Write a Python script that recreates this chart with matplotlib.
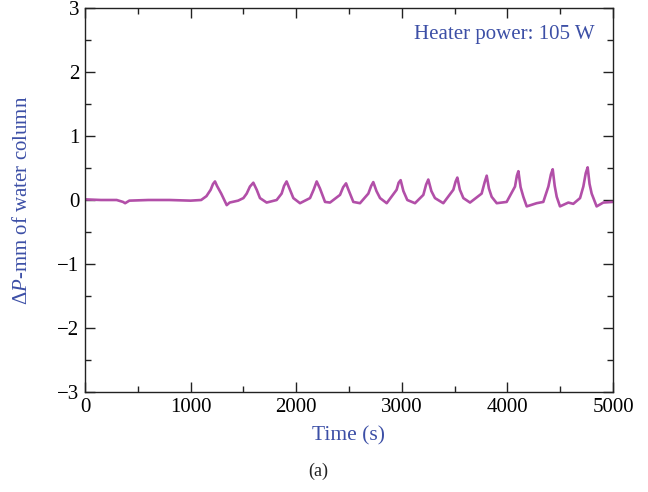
import matplotlib
matplotlib.use("Agg")
import matplotlib.pyplot as plt
from matplotlib.ticker import MultipleLocator

# Time (s) and pressure difference (mm of water column)
time_s = [0, 150, 300, 360, 380, 420, 600, 800, 1000, 1100, 1150, 1190, 1212, 1231,
          1250, 1290, 1342, 1370, 1450, 1500, 1531, 1562, 1594, 1626, 1657, 1720,
          1815, 1862, 1885, 1909, 1941, 1973, 2036, 2131, 2165, 2194, 2225, 2273,
          2320, 2415, 2445, 2472, 2490, 2541, 2604, 2683, 2710, 2730, 2760, 2794,
          2857, 2951, 2970, 2989, 3015, 3052, 3125, 3204, 3230, 3251, 3280, 3314,
          3393, 3488, 3510, 3526, 3550, 3583, 3646, 3756, 3785, 3804, 3825, 3851,
          3899, 3993, 4072, 4090, 4104, 4125, 4151, 4183, 4277, 4340, 4388, 4412,
          4429, 4448, 4467, 4498, 4577, 4624, 4688, 4719, 4742, 4760, 4778, 4798,
          4845, 4908, 5000]
dp_mm = [0.01, 0.0, 0.0, -0.03, -0.05, -0.01, 0.0, 0.0, -0.01, 0.0, 0.06, 0.16, 0.25, 0.29,
         0.22, 0.10, -0.08, -0.04, -0.01, 0.03, 0.10, 0.21, 0.27, 0.16, 0.03, -0.04,
         0.0, 0.10, 0.22, 0.29, 0.16, 0.03, -0.05, 0.03, 0.16, 0.29, 0.18, -0.03,
         -0.04, 0.08, 0.20, 0.26, 0.18, -0.03, -0.05, 0.10, 0.22, 0.28, 0.14, 0.03,
         -0.05, 0.16, 0.27, 0.31, 0.14, 0.0, -0.05, 0.08, 0.24, 0.32, 0.14, 0.03,
         -0.05, 0.16, 0.29, 0.35, 0.16, 0.03, -0.04, 0.10, 0.28, 0.38, 0.18, 0.05,
         -0.05, -0.03, 0.21, 0.38, 0.45, 0.20, 0.05, -0.10, -0.05, -0.03, 0.21, 0.40,
         0.48, 0.22, 0.05, -0.10, -0.04, -0.06, 0.03, 0.21, 0.42, 0.51, 0.25, 0.10,
         -0.10, -0.04, -0.03]

x_ticks = [0, 1000, 2000, 3000, 4000, 5000]
y_ticks = [-3, -2, -1, 0, 1, 2, 3]
y_tick_labels = ["\u22123", "\u22122", "\u22121", "0", "1", "2", "3"]

line_color = "#b24fa8"
text_blue = "#3c4fa6"

plt.rcParams["font.family"] = ["Liberation Serif", "DejaVu Serif"]
plt.rcParams["mathtext.fontset"] = "custom"
plt.rcParams["mathtext.it"] = "Liberation Serif:italic"
plt.rcParams["mathtext.rm"] = "Liberation Serif"

fig = plt.figure(figsize=(6.48, 4.92), dpi=100)
ax = fig.add_axes([85 / 648, 1 - 392 / 492, 528 / 648, 384 / 492])

ax.plot(time_s, dp_mm, color=line_color, lw=1.9, solid_joinstyle="round")

ax.set_xlim(0, 5000)
ax.set_ylim(-3, 3)
ax.set_xticks(x_ticks)
ax.set_xticklabels([str(v) for v in x_ticks])
ax.set_yticks(y_ticks)
ax.set_yticklabels(y_tick_labels)
ax.xaxis.set_minor_locator(MultipleLocator(500))
ax.yaxis.set_minor_locator(MultipleLocator(0.5))
ax.tick_params(which="both", direction="in", top=True, right=True,
               labelsize=15, width=1.0, color="#222222")
ax.tick_params(which="major", length=7, pad=4)
ax.tick_params(which="minor", length=4)
for s in ax.spines.values():
    s.set_linewidth(1.0)
    s.set_color("#222222")

ax.set_xlabel("Time (s)", fontsize=15.5, color=text_blue, labelpad=7)
ax.set_ylabel(r"$\Delta P$-mm of water column", fontsize=15, color=text_blue,
              labelpad=18)
ax.text(0.965, 0.93, "Heater power: 105 W", transform=ax.transAxes,
        ha="right", va="center", fontsize=15, color=text_blue)

fig.text(318 / 648, 1 - 471 / 492, "(a)", ha="center", va="center",
         fontsize=13, color="#222222")

fig.savefig("out.png", dpi=100)
